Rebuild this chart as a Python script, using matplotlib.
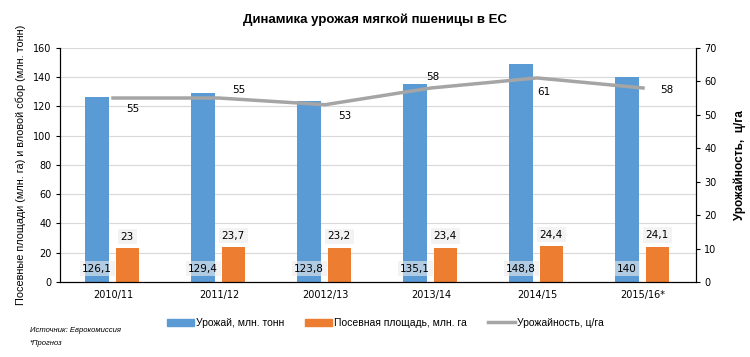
import matplotlib
matplotlib.use("Agg")
import matplotlib.pyplot as plt
import numpy as np
from matplotlib.lines import Line2D
from matplotlib.patches import Patch

categories = ["2010/11", "2011/12", "20012/13", "2013/14", "2014/15", "2015/16*"]
harvest = [126.1, 129.4, 123.8, 135.1, 148.8, 140]
area = [23, 23.7, 23.2, 23.4, 24.4, 24.1]
yield_cha = [55, 55, 53, 58, 61, 58]
left_ticks = [0, 20, 40, 60, 80, 100, 120, 140, 160]
right_ticks = [0, 10, 20, 30, 40, 50, 60, 70]

def fmt(v):
    s = ("%g" % v).replace(".", ",")
    return s

blue = "#5b9bd5"
orange = "#ed7d31"
gray = "#a5a5a5"

plt.rcParams['font.family'] = ['DejaVu Sans']
fig = plt.figure(figsize=(7.5, 3.57), dpi=100)
ax = fig.add_axes([0.08, 0.21, 0.848, 0.656])
ax2 = ax.twinx()

x = np.arange(len(categories))
w = 0.22
ax.bar(x - 0.15, harvest, w, color=blue, zorder=2)
ax.bar(x + 0.135, area, w, color=orange, zorder=2)

ax.set_xlim(-0.5, len(categories) - 0.5)
ax.set_ylim(0, 160)
ax.set_yticks(left_ticks)
ax.grid(axis='y', color='#d9d9d9', linewidth=0.8, zorder=0)
ax.set_axisbelow(True)
ax.set_xticks(x)
ax.set_xticklabels(categories, fontsize=7)
ax.tick_params(axis='x', length=0, pad=6)
ax.tick_params(axis='y', labelsize=7, length=3, direction='out', pad=3)
for s in ['top']:
    ax.spines[s].set_visible(False)
    ax2.spines[s].set_visible(False)
ax.spines['left'].set_color('black')
ax.spines['bottom'].set_color('black')
ax2.spines['right'].set_color('black')

bbox_kw = dict(boxstyle='square,pad=0.25', facecolor='#ececec', edgecolor='none', alpha=0.6)
for i, v in enumerate(harvest):
    ax.text(x[i] - 0.15, 9, fmt(v), ha='center', va='center', fontsize=7.5, bbox=bbox_kw, zorder=4)
for i, v in enumerate(area):
    ax.text(x[i] + 0.135, v + 8, fmt(v), ha='center', va='center', fontsize=7.5, bbox=bbox_kw, zorder=4)

ax2.plot(x, yield_cha, color=gray, linewidth=2.5, zorder=3)
ax2.set_ylim(0, 70)
ax2.set_yticks(right_ticks)
ax2.tick_params(axis='y', labelsize=7, length=3, direction='out', pad=3)
offsets = [(0.12, -3.3), (0.12, 2.5), (0.12, -3.3), (-0.05, 3.2), (0.0, -4.2), (0.16, -0.5)]
for i, v in enumerate(yield_cha):
    dx, dy = offsets[i]
    ax2.text(x[i] + dx, v + dy, fmt(v), ha='left', va='center', fontsize=7.5)

ax.set_ylabel("Посевные площади (млн. га) и вловой сбор (млн. тонн)", fontsize=7.8, labelpad=5,
              family='Liberation Sans')
ax2.set_ylabel("Урожайность,  ц/га", fontsize=8.5, fontweight='bold', labelpad=12,
               family='Liberation Sans')

fig.text(0.5, 0.944, "Динамика урожая мягкой пшеницы в ЕС", ha='center', va='center',
         fontsize=9.5, fontweight='bold', family='Liberation Sans')

handles = [Patch(color=blue), Patch(color=orange), Line2D([0], [0], color=gray, linewidth=2.5)]
labels = ["Урожай, млн. тонн", "Посевная площадь, млн. га", "Урожайность, ц/га"]
fig.legend(handles, labels, loc='center left', bbox_to_anchor=(0.222, 0.095), ncol=3, frameon=False,
           prop={'family': 'Liberation Sans', 'size': 7.5}, handlelength=2.6, handleheight=0.7,
           columnspacing=2.0, handletextpad=0.2, borderaxespad=0, borderpad=0)

fig.text(0.04, 0.07, "Источник: Еврокомиссия", fontsize=5.5, style='italic', family='Liberation Sans')
fig.text(0.04, 0.033, "*Прогноз", fontsize=5.5, style='italic', family='Liberation Sans')

fig.savefig("out.png", dpi=100)
